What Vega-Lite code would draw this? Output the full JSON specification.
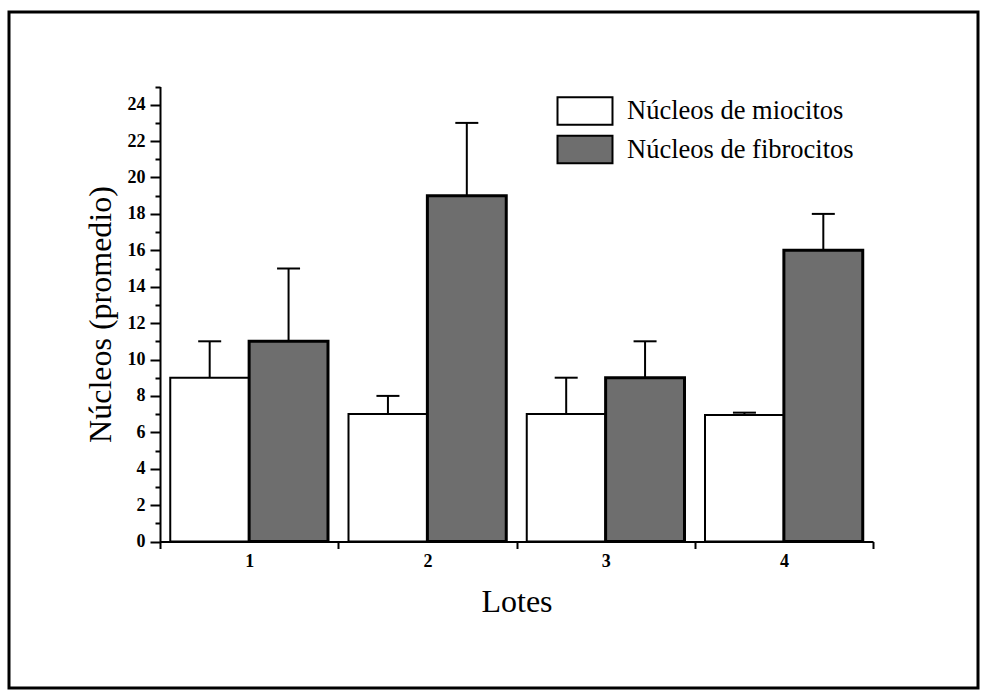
{
  "$schema": "https://vega.github.io/schema/vega-lite/v6.json",
  "width": 969,
  "height": 676,
  "autosize": {"type": "none"},
  "padding": {"left": 9, "top": 12, "right": 4, "bottom": 2},
  "background": "white",
  "config": {
    "view": {"stroke": "black", "strokeWidth": 3},
    "axis": {
      "domainColor": "black", "domainWidth": 2,
      "tickColor": "black", "tickWidth": 2,
      "labelColor": "black", "titleColor": "black",
      "labelFont": "Liberation Serif", "titleFont": "Liberation Serif",
      "grid": false
    }
  },
  "data": {
    "values": [
      {"lote": "1", "serie": "Núcleos de miocitos", "valor": 9, "sup": 11},
      {"lote": "1", "serie": "Núcleos de fibrocitos", "valor": 11, "sup": 15},
      {"lote": "2", "serie": "Núcleos de miocitos", "valor": 7, "sup": 8},
      {"lote": "2", "serie": "Núcleos de fibrocitos", "valor": 19, "sup": 23},
      {"lote": "3", "serie": "Núcleos de miocitos", "valor": 7, "sup": 9},
      {"lote": "3", "serie": "Núcleos de fibrocitos", "valor": 9, "sup": 11},
      {"lote": "4", "serie": "Núcleos de miocitos", "valor": 6.95, "sup": 7.08},
      {"lote": "4", "serie": "Núcleos de fibrocitos", "valor": 16, "sup": 18}
    ]
  },
  "resolve": {"axis": {"y": "independent"}},
  "layer": [
    {
      "mark": {"type": "bar", "stroke": "black", "opacity": 1},
      "encoding": {
        "x": {
          "field": "lote", "type": "nominal",
          "scale": {"range": [151, 864], "paddingInner": 0, "paddingOuter": 0},
          "axis": {
            "title": "Lotes", "labelAngle": 0, "tickBand": "extent",
            "tickSize": 7, "labelPadding": 4, "labelFontSize": 18, "labelFontWeight": "bold",
            "titleFontSize": 32, "titleFontWeight": "normal", "titlePadding": 16,
            "offset": -146.5
          }
        },
        "xOffset": {
          "field": "serie", "type": "nominal",
          "scale": {"domain": ["Núcleos de miocitos", "Núcleos de fibrocitos"], "paddingInner": 0, "paddingOuter": 0.13}
        },
        "y": {
          "field": "valor", "type": "quantitative",
          "scale": {"domain": [0, 25], "range": [529.5, 74.5], "nice": false, "zero": true},
          "axis": {
            "title": "Núcleos (promedio)",
            "values": [0, 2, 4, 6, 8, 10, 12, 14, 16, 18, 20, 22, 24],
            "tickSize": 10, "labelPadding": 5, "labelFontSize": 18, "labelFontWeight": "bold",
            "titleFontSize": 32, "titleFontWeight": "normal", "titlePadding": 10,
            "offset": -151
          }
        },
        "fill": {
          "field": "serie", "type": "nominal",
          "scale": {"domain": ["Núcleos de miocitos", "Núcleos de fibrocitos"], "range": ["white", "#6e6e6e"]},
          "legend": {
            "title": null, "orient": "none", "legendX": 561, "legendY": 84,
            "symbolType": "M-2,-1H2V1H-2Z", "symbolSize": 756,
            "symbolStrokeColor": "black", "symbolStrokeWidth": 2, "symbolOpacity": 1,
            "labelFont": "Liberation Serif", "labelFontSize": 26.5, "labelColor": "black",
            "labelOffset": 27, "rowPadding": 2.5, "padding": 0, "labelLimit": 400
          }
        },
        "strokeWidth": {
          "condition": {"test": "datum.serie === 'Núcleos de fibrocitos'", "value": 3},
          "value": 2
        }
      }
    },
    {
      "mark": {"type": "rule", "strokeWidth": 2, "color": "black"},
      "encoding": {
        "x": {"field": "lote", "type": "nominal"},
        "xOffset": {"field": "serie", "type": "nominal"},
        "y": {"field": "valor", "type": "quantitative", "axis": null},
        "y2": {"field": "sup"}
      }
    },
    {
      "mark": {"type": "tick", "orient": "horizontal", "size": 23, "thickness": 2, "color": "black", "opacity": 1},
      "encoding": {
        "x": {"field": "lote", "type": "nominal"},
        "xOffset": {"field": "serie", "type": "nominal"},
        "y": {
          "field": "sup", "type": "quantitative",
          "axis": {
            "orient": "left", "values": [1, 3, 5, 7, 9, 11, 13, 15, 17, 19, 21, 23, 25],
            "labels": false, "domain": false, "tickSize": 5, "tickWidth": 2,
            "title": null, "offset": -151
          }
        }
      }
    }
  ]
}
